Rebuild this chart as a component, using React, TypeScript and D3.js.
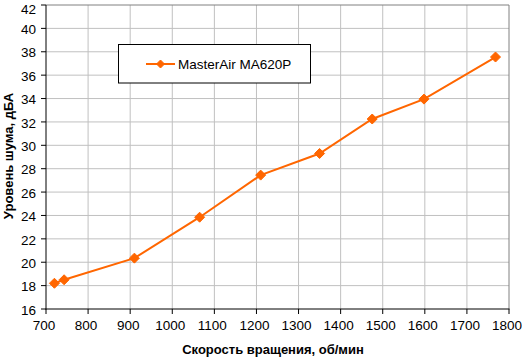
import React from "react";
import * as d3 from "d3";

const rpm = [720, 743, 910, 1065, 1210, 1350, 1475, 1598, 1768];
const noise = [18.2, 18.5, 20.35, 23.85, 27.45, 29.3, 32.25, 33.95, 37.55];
const xTicks = [700, 800, 900, 1000, 1100, 1200, 1300, 1400, 1500, 1600, 1700, 1800];
const yTicks = [16, 18, 20, 22, 24, 26, 28, 30, 32, 34, 36, 38, 40, 42];
const seriesName = "MasterAir MA620P";
const xTitle = "Скорость вращения, об/мин";
const yTitle = "Уровень шума, дБА";

const W = 522, H = 358;
const L = 46, R = 509, T = 5, B = 309;
const color = "#FF6600";
const font = "'Liberation Sans', Arial, sans-serif";
const narrow = "'Liberation Sans Narrow', 'Liberation Sans', Arial, sans-serif";

export default function App() {
  const x = d3.scaleLinear().domain([700, 1800]).range([L, R]);
  const y = d3.scaleLinear().domain([16, 42]).range([B, T]);
  const pts: [number, number][] = rpm.map((r, i) => [x(r), y(noise[i])]);
  const line = d3.line()(pts) || "";
  const diamond = (cx: number, cy: number, s = 5) =>
    `M${cx},${cy - s}L${cx + s},${cy}L${cx},${cy + s}L${cx - s},${cy}Z`;
  return (
    <svg width={W} height={H} style={{ position: "absolute", left: 0, top: 0, background: "#fff" }}>
      <rect x={0} y={0} width={W} height={H} fill="#fff" />
      {xTicks.slice(1, -1).map((t) => (
        <line key={"gx" + t} x1={x(t)} x2={x(t)} y1={T} y2={B} stroke="#C0C0C0" strokeWidth={1} />
      ))}
      {yTicks.slice(1, -1).map((t) => (
        <line key={"gy" + t} x1={L} x2={R} y1={y(t)} y2={y(t)} stroke="#C0C0C0" strokeWidth={1} />
      ))}
      <line x1={L} x2={R} y1={T} y2={T} stroke="#808080" />
      <line x1={R} x2={R} y1={T} y2={B} stroke="#808080" />
      <line x1={L} x2={L} y1={T} y2={B + 0.5} stroke="#000" />
      <line x1={L - 0.5} x2={R + 0.5} y1={B} y2={B} stroke="#000" />
      {yTicks.map((t) => (
        <g key={"yt" + t}>
          <line x1={L - 5} x2={L} y1={y(t)} y2={y(t)} stroke="#000" />
          <text x={L - 10} y={Math.max(y(t), 8)} dy="0.42em" textAnchor="end" fontFamily={narrow} fontSize={13.5}>{t}</text>
        </g>
      ))}
      {xTicks.map((t) => (
        <g key={"xt" + t}>
          <line x1={x(t)} x2={x(t)} y1={B} y2={B + 5} stroke="#000" />
          <text x={x(t) - 2} y={B + 21} textAnchor="middle" fontFamily={narrow} fontSize={13.5}>{t}</text>
        </g>
      ))}
      <path d={line} fill="none" stroke={color} strokeWidth={2} />
      {pts.map(([cx, cy], i) => (
        <path key={"m" + i} d={diamond(cx, cy)} fill={color} stroke={color} />
      ))}
      <rect x={118.5} y={44.5} width={192} height={38.5} fill="#fff" stroke="#000" />
      <line x1={146} x2={175} y1={64} y2={64} stroke={color} strokeWidth={2} />
      <path d={diamond(160.5, 64, 4)} fill={color} stroke={color} />
      <text x={178} y={64} dy="0.38em" fontFamily={narrow} fontSize={13.5}>{seriesName}</text>
      <text x={273} y={354} textAnchor="middle" fontFamily={font} fontSize={13} fontWeight="bold">{xTitle}</text>
      <text transform={`translate(8,156) rotate(-90)`} dy="0.35em" textAnchor="middle" fontFamily={font} fontSize={13} fontWeight="bold">{yTitle}</text>
    </svg>
  );
}
